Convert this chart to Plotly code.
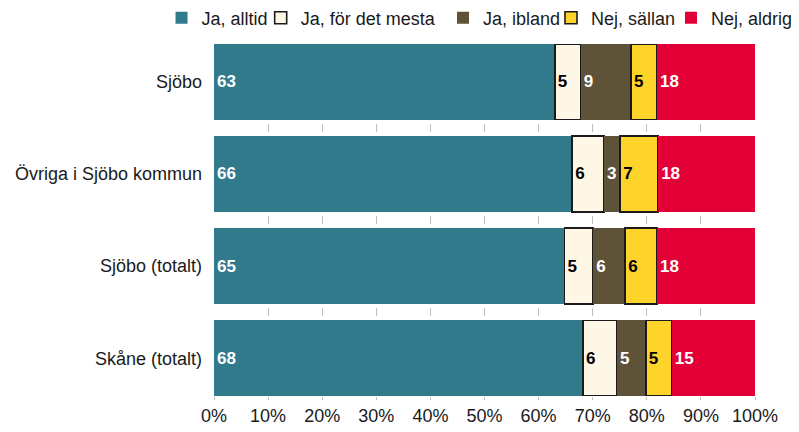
import plotly.graph_objects as go

categories = ["Sjöbo", "Övriga i Sjöbo kommun", "Sjöbo (totalt)", "Skåne (totalt)"]
series_names = ["Ja, alltid", "Ja, för det mesta", "Ja, ibland", "Nej, sällan", "Nej, aldrig"]
ja_alltid = [63.0, 66.2, 64.8, 68.2]
ja_mesta = [4.8, 5.9, 5.3, 6.3]
ja_ibland = [9.3, 3.0, 5.9, 5.3]
nej_sallan = [4.8, 7.0, 5.9, 4.8]
nej_aldrig = [18.1, 17.9, 18.1, 15.4]
x_tick_vals = [0, 10, 20, 30, 40, 50, 60, 70, 80, 90, 100]
x_tick_text = ["0%", "10%", "20%", "30%", "40%", "50%", "60%", "70%", "80%", "90%", "100%"]

values = [ja_alltid, ja_mesta, ja_ibland, nej_sallan, nej_aldrig]
colors = ["#317A8C", "#FEF7E5", "#5E5238", "#FFD42A", "#E30036"]
text_colors = ["white", "black", "white", "black", "white"]
line_widths = [0, 1.6, 0, 1.6, 0]
# one legend box per series so each entry sits where the reference has it
legend_ids = ["legend", "legend2", "legend3", "legend4", "legend5"]
legend_x = [-0.097, 0.0863, 0.4233, 0.6229, 0.8447]

FONT = "Liberation Sans, Arial, sans-serif"
FS = 18

fig = go.Figure()
for name, vals, col, tcol, lw, lid in zip(series_names, values, colors, text_colors, line_widths, legend_ids):
    fig.add_trace(go.Bar(
        y=categories, x=vals, name=name, orientation="h", legend=lid,
        marker=dict(color=col, line=dict(color="#1a1a1a", width=lw)),
        texttemplate="%{x:.0f}", textposition="inside", insidetextanchor="start",
        textangle=0, constraintext="none",
        textfont=dict(family=FONT, size=17, color=tcol, weight="bold"),
        hoverinfo="skip",
    ))

legend_layout = {}
for lid, lx in zip(legend_ids, legend_x):
    legend_layout[lid] = dict(orientation="h", x=lx, xanchor="left", y=1.0739, yanchor="middle",
                              font=dict(family=FONT, size=FS, color="#1a1a1a"),
                              itemwidth=30, bgcolor="rgba(0,0,0,0)", borderwidth=0)

fig.update_layout(
    barmode="stack", bargap=0.18,
    width=791, height=424,
    margin=dict(l=206, r=44, t=36, b=36, autoexpand=False),
    paper_bgcolor="white", plot_bgcolor="white",
    font=dict(family=FONT, size=FS, color="#1a1a1a"),
    showlegend=True,
    **legend_layout,
)
fig.update_xaxes(range=[0, 100], tickvals=x_tick_vals, ticktext=x_tick_text,
                 showgrid=True, gridcolor="#bfbfbf", gridwidth=1.2, griddash="0px,80px,8px,4px",
                 zeroline=False, ticks="outside", ticklen=3, tickcolor="#bfbfbf",
                 tickfont=dict(size=FS), showline=False, fixedrange=True)
fig.update_yaxes(categoryorder="array", categoryarray=categories, range=[3.41, -0.41],
                 showgrid=False, zeroline=False, ticks="", ticklabelstandoff=11,
                 tickfont=dict(size=FS), showline=False, fixedrange=True)

fig.write_html("out.html")
